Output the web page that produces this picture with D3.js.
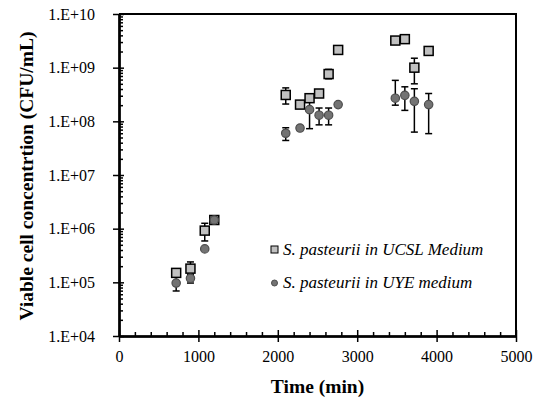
<!DOCTYPE html>
<html>
<head>
<meta charset="utf-8">
<script src="https://cdn.jsdelivr.net/npm/d3@7"></script>
<style>
  body { margin: 0; background: #fff; }
  text { font-family: "Times New Roman", "Liberation Serif", serif; }
</style>
</head>
<body>
<div id="svgWrapper"></div>
<script>

// time points (min), same for both media
var times = [720, 900, 1080, 1200, 2100, 2280, 2400, 2520, 2640, 2760, 3480, 3600, 3720, 3900];

// S. pasteurii in UCSL medium
var ucslMean = [1.5e5, 1.8e5, 9.2e5, 1.45e6, 3.1e8, 2.05e8, 2.7e8, 3.3e8, 7.6e8, 2.14e9, 3.2e9, 3.4e9, 1.0e9, 2.05e9];
var ucslLow  = [1.4e5, 1.5e5, 5.9e5, 1.4e6, 2.1e8, 1.95e8, 2.6e8, 3.1e8, 6.2e8, 2.0e9, 3.0e9, 3.2e9, 5.0e8, 1.95e9];
var ucslHigh = [1.6e5, 2.4e5, 1.26e6, 1.5e6, 4.2e8, 2.15e8, 2.8e8, 3.5e8, 9.3e8, 2.3e9, 3.4e9, 3.6e9, 1.5e9, 2.15e9];

// S. pasteurii in UYE medium
var uyeMean = [9.7e4, 1.19e5, 4.2e5, 1.45e6, 6.0e7, 7.5e7, 1.65e8, 1.3e8, 1.3e8, 2.05e8, 2.7e8, 3.05e8, 2.36e8, 2.05e8];
var uyeLow  = [6.9e4, 9.7e4, 4.0e5, 1.4e6, 4.4e7, 7.0e7, 7.3e7, 8.6e7, 8.6e7, 1.95e8, 2.0e8, 1.6e8, 6.3e7, 5.9e7];
var uyeHigh = [1.27e5, 1.4e5, 4.4e5, 1.5e6, 7.6e7, 8.3e7, 2.9e8, 1.77e8, 1.77e8, 2.15e8, 5.8e8, 4.4e8, 4.05e8, 3.3e8];

var xTicks = [0, 1000, 2000, 3000, 4000, 5000];
var yTicks = [1e4, 1e5, 1e6, 1e7, 1e8, 1e9, 1e10];
var legendLabels = ["S. pasteurii in UCSL Medium", "S. pasteurii in UYE medium"];

var fullWidth = 536, fullHeight = 398;
var pLeft = 119, pRight = 516, pTop = 14, pBottom = 336;

var svg = d3.select("#svgWrapper")
	.append("svg")
	.attr("width", fullWidth)
	.attr("height", fullHeight);

var xScale = d3.scaleLinear().domain([0, 5000]).range([pLeft, pRight]);
var yScale = d3.scaleLog().domain([1e4, 1e10]).range([pBottom, pTop]);

// minor tick values
var xMinor = d3.range(0, 5001, 200).filter(function(d) { return d % 1000 != 0; });
var yMinor = [];
yTicks.slice(0, -1).forEach(function(p) {
	for (var k = 2; k <= 9; k++) yMinor.push(p * k);
});

// plot frame (top and right)
svg.append("path")
	.attr("d", "M" + pLeft + "," + pTop + "H" + pRight + "V" + pBottom)
	.attr("fill", "none").attr("stroke", "#000").attr("stroke-width", 2);

// x axis: major ticks crossing, minor inside
var xAxis = svg.append("g").attr("transform", "translate(0," + pBottom + ")");
xAxis.call(d3.axisBottom(xScale).tickValues(xTicks).tickSize(6).tickPadding(9).tickSizeOuter(0).tickFormat(d3.format("d")));
xAxis.append("g").call(d3.axisBottom(xScale).tickValues(xTicks).tickSize(-6).tickFormat("").tickSizeOuter(0));
xAxis.append("g").call(d3.axisBottom(xScale).tickValues(xMinor).tickSize(-4).tickFormat("").tickSizeOuter(0));

var yAxis = svg.append("g").attr("transform", "translate(" + pLeft + ",0)");
yAxis.call(d3.axisLeft(yScale).tickValues(yTicks).tickSize(6).tickPadding(18).tickSizeOuter(0)
	.tickFormat(function(d) { var e = Math.round(Math.log10(d)); return "1.E+" + (e < 10 ? "0" + e : e); }));
yAxis.append("g").call(d3.axisLeft(yScale).tickValues(yTicks).tickSize(-5).tickFormat("").tickSizeOuter(0));
yAxis.append("g").call(d3.axisLeft(yScale).tickValues(yMinor).tickSize(-4).tickFormat("").tickSizeOuter(0));

svg.selectAll(".domain").attr("stroke-width", 2);
svg.selectAll(".tick line").attr("stroke-width", 1.5);
svg.selectAll(".tick text").attr("font-size", 16).attr("font-family", "'Times New Roman', 'Liberation Serif', serif").attr("fill", "#000");

// axis titles
svg.append("text")
	.attr("x", (pLeft + pRight) / 2).attr("y", 393)
	.attr("text-anchor", "middle").attr("font-size", 19.5).attr("font-weight", "bold")
	.text("Time (min)");
svg.append("text")
	.attr("transform", "translate(33," + ((pTop + pBottom) / 2 + 1) + ") rotate(-90)")
	.attr("text-anchor", "middle").attr("font-size", 19.5).attr("font-weight", "bold")
	.text("Viable cell concentrtion (CFU/mL)");

function errorBars(low, high, color) {
	var g = svg.append("g").attr("stroke", color).attr("stroke-width", 1.5);
	times.forEach(function(t, i) {
		var x = xScale(t), y0 = yScale(low[i]), y1 = yScale(high[i]);
		g.append("line").attr("x1", x).attr("x2", x).attr("y1", y0).attr("y2", y1);
		g.append("line").attr("x1", x - 3.5).attr("x2", x + 3.5).attr("y1", y0).attr("y2", y0);
		g.append("line").attr("x1", x - 3.5).attr("x2", x + 3.5).attr("y1", y1).attr("y2", y1);
	});
}

errorBars(uyeLow, uyeHigh, "#000");
errorBars(ucslLow, ucslHigh, "#000");

var sq = 9;
svg.append("g").selectAll("rect")
	.data(ucslMean).enter().append("rect")
	.attr("x", function(d, i) { return xScale(times[i]) - sq / 2; })
	.attr("y", function(d) { return yScale(d) - sq / 2; })
	.attr("width", sq).attr("height", sq)
	.attr("fill", "#c0c0c0").attr("stroke", "#000").attr("stroke-width", 1.5);

svg.append("g").selectAll("circle")
	.data(uyeMean).enter().append("circle")
	.attr("cx", function(d, i) { return xScale(times[i]); })
	.attr("cy", function(d) { return yScale(d); })
	.attr("r", 4.2)
	.attr("fill", "#737373").attr("stroke", "#4d4d4d").attr("stroke-width", 1.2);

// legend
var legend = svg.append("g");
legend.append("rect").attr("x", 271).attr("y", 246).attr("width", 7).attr("height", 7)
	.attr("fill", "#c0c0c0").attr("stroke", "#000").attr("stroke-width", 1);
legend.append("circle").attr("cx", 274.5).attr("cy", 283).attr("r", 3)
	.attr("fill", "#737373").attr("stroke", "#4d4d4d").attr("stroke-width", 1);
legend.selectAll("text.lab").data(legendLabels).enter().append("text")
	.attr("class", "lab")
	.attr("x", 283).attr("y", function(d, i) { return 255 + i * 33; })
	.attr("font-size", 17).attr("font-style", "italic")
	.text(function(d) { return d; });

</script>
</body>
</html>
